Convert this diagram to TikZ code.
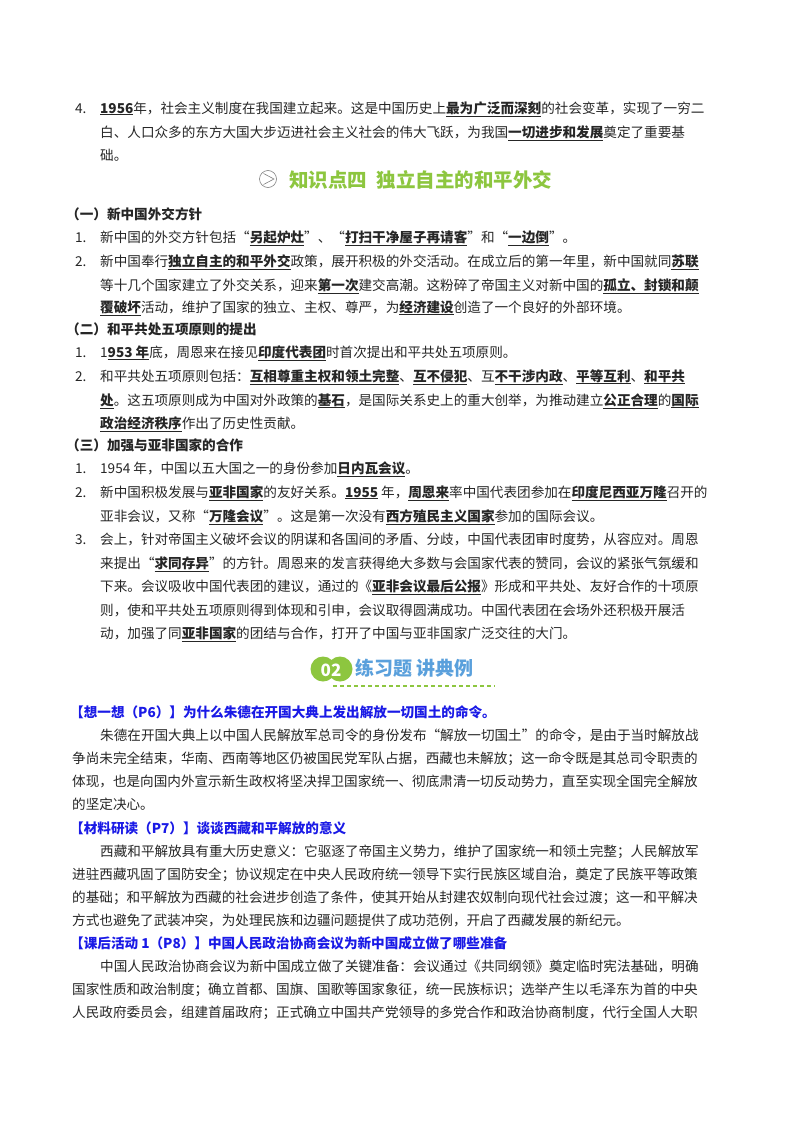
\documentclass[tikz,border=0pt]{standalone}
\usepackage{fontspec}
\setmainfont{Noto Sans CJK SC}
\definecolor{kgreen}{HTML}{8DC63F}
\definecolor{kblue}{HTML}{1A1AE6}
\definecolor{tblue}{HTML}{5AA0DC}
\newcommand{\U}[1]{\textbf{\underline{#1}}}
\newcommand{\putl}[4]{\node[txt] (#1) at (#2,#3) {#4};}
\begin{document}
\begin{tikzpicture}[x=1pt,y=-1pt,
  txt/.style={anchor=base west,inner sep=0pt,font=\fontsize{13.6}{14}\selectfont,text=black!85}]
\useasboundingbox[fill=white] (0,0) rectangle (800,1132);
% item 4
\putl{a0}{75}{113}{4.}
\putl{a1}{100}{113}{\U{1956}年，社会主义制度在我国建立起来。这是中国历史上\U{最为广泛而深刻}的社会变革，实现了一穷二}
\putl{a2}{100}{137}{白、人口众多的东方大国大步迈进社会主义社会的伟大飞跃，为我国\U{一切进步和发展}奠定了重要基}
\putl{a3}{100}{160}{础。}
% heading 4
\node[circle,draw=gray,line width=0.6pt,minimum size=17pt,inner sep=0pt] (ic) at (268,179) {};
\draw[gray,line width=0.6pt] (263.5,173.5) -- (274,179) -- (263.5,184.5);
\node[anchor=west,inner sep=0pt,text=kgreen,font=\fontsize{19.5}{21}\selectfont\bfseries] (h4) at (289,180) {知识点四\hspace{0.5em}独立自主的和平外交};
% section 1
\putl{s1}{66}{219}{\textbf{（一）新中国外交方针}}
\putl{b0}{75}{242}{1.}
\putl{b1}{100}{242}{新中国的外交方针包括“\U{另起炉灶}”、“\U{打扫干净屋子再请客}”和“\U{一边倒}”。}
\putl{c0}{75}{266}{2.}
\putl{c1}{100}{266}{新中国奉行\U{独立自主的和平外交}政策，展开积极的外交活动。在成立后的第一年里，新中国就同\U{苏联}}
\putl{c2}{100}{290}{等十几个国家建立了外交关系，迎来\U{第一次}建交高潮。这粉碎了帝国主义对新中国的\U{孤立、封锁和颠}}
\putl{c3}{100}{312}{\U{覆破坏}活动，维护了国家的独立、主权、尊严，为\U{经济建设}创造了一个良好的外部环境。}
% section 2
\putl{s2}{66}{334}{\textbf{（二）和平共处五项原则的提出}}
\putl{d0}{75}{357}{1.}
\putl{d1}{100}{357}{1\U{953 年}底，周恩来在接见\U{印度代表团}时首次提出和平共处五项原则。}
\putl{e0}{75}{381}{2.}
\putl{e1}{100}{381}{和平共处五项原则包括：\U{互相尊重主权和领土完整}、\U{互不侵犯}、互\U{不干涉内政}、\U{平等互利}、\U{和平共}}
\putl{e2}{100}{405}{\U{处}。这五项原则成为中国对外政策的\U{基石}，是国际关系史上的重大创举，为推动建立\U{公正合理}的\U{国际}}
\putl{e3}{100}{428}{\U{政治经济秩序}作出了历史性贡献。}
% section 3
\putl{s3}{66}{450}{\textbf{（三）加强与亚非国家的合作}}
\putl{f0}{75}{473}{1.}
\putl{f1}{100}{473}{1954 年，中国以五大国之一的身份参加\U{日内瓦会议}。}
\putl{g0}{75}{497}{2.}
\putl{g1}{100}{497}{新中国积极发展与\U{亚非国家}的友好关系。\U{1955} 年，\U{周恩来}率中国代表团参加在\U{印度尼西亚万隆}召开的}
\putl{g2}{100}{521}{亚非会议，又称“\U{万隆会议}”。这是第一次没有\U{西方殖民主义国家}参加的国际会议。}
\putl{h0}{75}{544}{3.}
\putl{h1}{100}{544}{会上，针对帝国主义破坏会议的阴谋和各国间的矛盾、分歧，中国代表团审时度势，从容应对。周恩}
\putl{h2}{100}{568}{来提出“\U{求同存异}”的方针。周恩来的发言获得绝大多数与会国家代表的赞同，会议的紧张气氛缓和}
\putl{h3}{100}{591}{下来。会议吸收中国代表团的建议，通过的《\U{亚非会议最后公报}》形成和平共处、友好合作的十项原}
\putl{h4}{100}{615}{则，使和平共处五项原则得到体现和引申，会议取得圆满成功。中国代表团在会场外还积极开展活}
\putl{h5}{100}{638}{动，加强了同\U{亚非国家}的团结与合作，打开了中国与亚非国家广泛交往的大门。}
% badge 02
\fill[kgreen] (323,669) circle (12.5);
\fill[kgreen] (340,669) circle (12.5);
\node[text=white,font=\fontsize{17}{18}\selectfont\bfseries,inner sep=0pt] (n02) at (331,670) {02};
\node[anchor=west,inner sep=0pt,text=tblue,font=\fontsize{19}{20}\selectfont\bfseries] (h02) at (355,668) {练习题 讲典例};
\coordinate (dl1) at (333,686);
\coordinate (dl2) at (495,686);
\draw[kgreen,line width=1.2pt,dash pattern=on 4pt off 3pt] (dl1) -- (dl2);
% Q1
\putl{q1}{70}{717}{\textcolor{kblue}{\textbf{【想一想（P6）】为什么朱德在开国大典上发出解放一切国土的命令。}}}
\putl{q1a}{100}{740}{朱德在开国大典上以中国人民解放军总司令的身份发布“解放一切国土”的命令，是由于当时解放战}
\putl{q1b}{72}{763}{争尚未完全结束，华南、西南等地区仍被国民党军队占据，西藏也未解放；这一命令既是其总司令职责的}
\putl{q1c}{72}{786}{体现，也是向国内外宣示新生政权将坚决捍卫国家统一、彻底肃清一切反动势力，直至实现全国完全解放}
\putl{q1d}{72}{809}{的坚定决心。}
\putl{q2}{70}{833}{\textcolor{kblue}{\textbf{【材料研读（P7）】谈谈西藏和平解放的意义}}}
\putl{q2a}{100}{856}{西藏和平解放具有重大历史意义：它驱逐了帝国主义势力，维护了国家统一和领土完整；人民解放军}
\putl{q2b}{72}{879}{进驻西藏巩固了国防安全；协议规定在中央人民政府统一领导下实行民族区域自治，奠定了民族平等政策}
\putl{q2c}{72}{902}{的基础；和平解放为西藏的社会进步创造了条件，使其开始从封建农奴制向现代社会过渡；这一和平解决}
\putl{q2d}{72}{925}{方式也避免了武装冲突，为处理民族和边疆问题提供了成功范例，开启了西藏发展的新纪元。}
\putl{q3}{70}{948}{\textcolor{kblue}{\textbf{【课后活动 1（P8）】中国人民政治协商会议为新中国成立做了哪些准备}}}
\putl{q3a}{100}{971}{中国人民政治协商会议为新中国成立做了关键准备：会议通过《共同纲领》奠定临时宪法基础，明确}
\putl{q3b}{72}{994}{国家性质和政治制度；确立首都、国旗、国歌等国家象征，统一民族标识；选举产生以毛泽东为首的中央}
\putl{q3c}{72}{1017}{人民政府委员会，组建首届政府；正式确立中国共产党领导的多党合作和政治协商制度，代行全国人大职}
\end{tikzpicture}
\end{document}
